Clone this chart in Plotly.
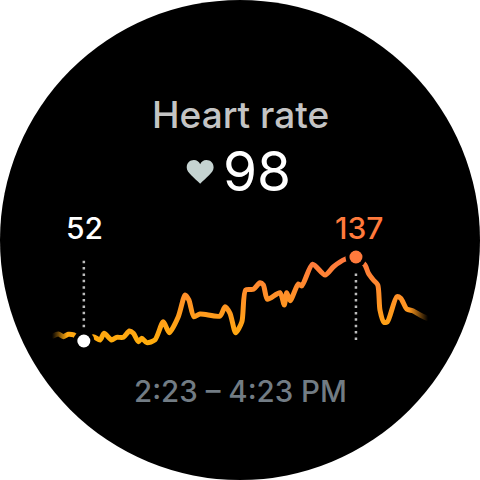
import plotly.graph_objects as go

# Heart-rate series
minutes = [0, 1.7, 3.3, 4.9, 6.7, 9.9, 12.9, 15.1, 16.4, 18.8, 20.4, 22.6, 24.5, 25.8, 27.4, 28.5, 30.1, 32.7,
           35.4, 37.3, 40.2, 42.4, 43.6, 45.2, 47.2, 53.6, 55.2, 56.8, 58.6, 60.6, 61.8, 64.3, 66.4, 67.5, 68.8,
           72.8, 74.2, 75, 76.1, 78.7, 79.8, 83.3, 87.3, 90, 93.7, 97.2, 100.1, 101.2, 102.8, 104.2, 104.9,
           106.2, 107.3, 110.3, 111.6, 113.5, 115.6, 117.8, 120]
bpm = [57.1, 59.1, 56.4, 58.8, 58.1, 52, 56.4, 53, 59.8, 53, 55.7, 55.7, 62.1, 59.8, 51.3, 54.7, 50.3, 53,
       71.5, 60.4, 76.6, 98.6, 93.5, 76.6, 79.3, 77.3, 86.7, 80, 60.4, 71.5, 103.6, 104.3, 111, 108.7, 94.2,
       100.9, 88.4, 100.9, 92.8, 109.7, 107.7, 129.6, 118.8, 127.2, 134.7, 137, 128.9, 120.5, 113.7, 108.7, 83.4,
       70.9, 71.5, 96.8, 95.2, 84.4, 82.4, 78.3, 75]

low_minute, low_bpm = 9.9, 52
high_minute, high_bpm = 97.2, 137
low_stem = [66, 135]
high_stem = [53, 122]

title = "Heart rate"
current = "98"
time_range = "2:23 – 4:23 PM"

fig = go.Figure()
fig.add_trace(go.Scatter(x=minutes, y=bpm, mode="lines", hoverinfo="skip",
                         line=dict(color="#ff9020", width=5, shape="spline", smoothing=0.7)))

# stems
fig.add_trace(go.Scatter(x=[low_minute] * 2, y=low_stem, mode="lines", hoverinfo="skip",
                         line=dict(color="#bcbcbc", width=2.5, dash="2.5px,3.9px")))
fig.add_trace(go.Scatter(x=[high_minute] * 2, y=high_stem, mode="lines", hoverinfo="skip",
                         line=dict(color="#bcbcbc", width=2.5, dash="2.5px,3.9px")))
# halo + dots
fig.add_trace(go.Scatter(x=[low_minute, high_minute], y=[low_bpm, high_bpm], mode="markers", hoverinfo="skip",
                         marker=dict(size=21, color="#000000")))
fig.add_trace(go.Scatter(x=[low_minute, high_minute], y=[low_bpm, high_bpm], mode="markers", hoverinfo="skip",
                         marker=dict(size=13, color=["#ffffff", "#ff7a3c"])))


def text(s, px, py, size, color, weight=500):
    return dict(text=s, x=px / 480, y=1 - py / 480, xref="paper", yref="paper", xanchor="center", yanchor="middle",
                showarrow=False, font=dict(family="Inter", size=size, color=color, weight=weight))


fig.update_layout(
    width=480, height=480, margin=dict(l=0, r=0, t=0, b=0), showlegend=False,
    paper_bgcolor="#ffffff", plot_bgcolor="rgba(0,0,0,0)",
    xaxis=dict(range=[-17.0, 137.0], visible=False, fixedrange=True),
    yaxis=dict(range=[-88.7, 397.1], visible=False, fixedrange=True),
    shapes=[
        dict(type="circle", xref="paper", yref="paper", x0=0, x1=1, y0=0, y1=1, layer="below",
             fillcolor="#000000", line=dict(width=0)),
        dict(type="path", xref="paper", yref="paper", layer="above", fillcolor="#c5d3d1", line=dict(width=0),
             path="M .417 .617 C .405 .630 .389 .640 .389 .651 C .389 .661 .396 .6667 .404 .6667 "
                  "C .410 .6667 .415 .663 .417 .658 C .419 .663 .424 .6667 .430 .6667 "
                  "C .438 .6667 .445 .661 .445 .651 C .445 .640 .429 .630 .417 .617 Z"),
    ],
    annotations=[
        text(title, 240, 114, 37, "#c4c4c4"),
        text(current, 257, 171, 55, "#ffffff", 400),
        text("52", 84, 228, 30, "#ffffff"),
        text("137", 359, 228, 30, "#ff7a3c"),
        text(time_range, 240, 391, 29.5, "#727c84"),
    ],
)

GRADIENT_JS = """
document.body.style.margin='0';document.body.style.overflow='hidden';
var svg=document.querySelector('svg.main-svg');
var defs=svg.querySelector('defs');
defs.insertAdjacentHTML('beforeend',
 '<linearGradient id="hrg" gradientUnits="userSpaceOnUse" x1="0" y1="255" x2="0" y2="342">'+
 '<stop offset="0" stop-color="#ff7640"/><stop offset="1" stop-color="#ffac0c"/></linearGradient>'+
 '<linearGradient id="hrf" gradientUnits="userSpaceOnUse" x1="52" y1="0" x2="428" y2="0">'+
 '<stop offset="0" stop-color="#000"/><stop offset="0.04" stop-color="#fff"/>'+
 '<stop offset="0.95" stop-color="#fff"/><stop offset="1" stop-color="#000"/></linearGradient>'+
 '<mask id="hrm" maskUnits="userSpaceOnUse" x="0" y="0" width="480" height="480">'+
 '<rect x="0" y="0" width="480" height="480" fill="url(#hrf)"/></mask>');
var p=document.querySelector('.scatterlayer .trace path.js-line');
p.style.stroke='url(#hrg)';
p.setAttribute('mask','url(#hrm)');
p.style.strokeLinecap='round';
"""
fig.write_html("out.html", config={"displayModeBar": False, "staticPlot": True}, post_script=GRADIENT_JS)
